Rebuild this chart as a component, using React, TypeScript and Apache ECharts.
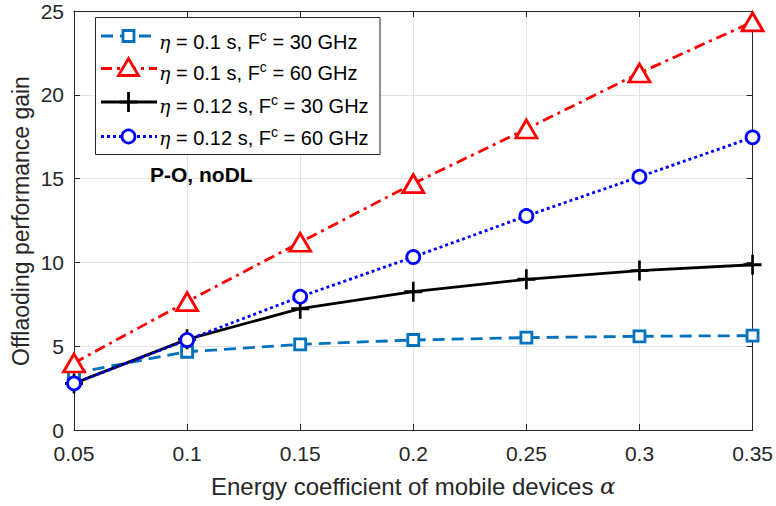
import React, { useEffect, useRef } from "react";
import * as echarts from "echarts";

// alpha values on the x axis
const alphaLabels = ["0.05", "0.1", "0.15", "0.2", "0.25", "0.3", "0.35"];

// offloading performance gain per configuration
const eta01_F30 = [3.4, 4.67, 5.11, 5.37, 5.51, 5.59, 5.63];
const eta01_F60 = [4.0, 7.66, 11.2, 14.7, 17.96, 21.3, 24.35];
const eta012_F30 = [2.78, 5.41, 7.24, 8.25, 8.99, 9.51, 9.86];
const eta012_F60 = [2.78, 5.37, 7.95, 10.32, 12.77, 15.11, 17.46];

const yTicks = [0, 5, 10, 15, 20, 25];

const FONT = "Liberation Sans, Arial, Helvetica, sans-serif";
const MATH = "DejaVu Serif, serif";
const TXT = "#262626";
const LW = 2.8;

const PLUS_PATH = "path://M5,0 L5,10 M0,5 L10,5";

type Entry = {
  eta: string;
  f: string;
  color: string;
  dash: number[] | "solid";
  marker: "square" | "triangle" | "plus" | "circle";
};

const legendEntries: Entry[] = [
  { eta: "0.1", f: "30", color: "#0072BD", dash: [12, 7], marker: "square" },
  { eta: "0.1", f: "60", color: "#FF0000", dash: [11, 5, 3, 5], marker: "triangle" },
  { eta: "0.12", f: "30", color: "#000000", dash: "solid", marker: "plus" },
  { eta: "0.12", f: "60", color: "#0000FF", dash: [3, 3], marker: "circle" },
];

function markerGraphic(e: Entry, cx: number, cy: number): any {
  const stroke = { stroke: e.color, lineWidth: LW, fill: "#fff" };
  if (e.marker === "square") {
    return { type: "rect", shape: { x: cx - 5.5, y: cy - 5.5, width: 11, height: 11 }, style: stroke, z: 102 };
  }
  if (e.marker === "triangle") {
    return {
      type: "polygon",
      shape: { points: [[cx, cy - 10], [cx - 10, cy + 7], [cx + 10, cy + 7]] },
      style: stroke,
      z: 102,
    };
  }
  if (e.marker === "circle") {
    return { type: "circle", shape: { cx, cy, r: 6.5 }, style: stroke, z: 102 };
  }
  return {
    type: "group",
    z: 102,
    children: [
      { type: "line", shape: { x1: cx, y1: cy - 10, x2: cx, y2: cy + 10 }, style: { stroke: e.color, lineWidth: LW }, z: 102 },
      { type: "line", shape: { x1: cx - 9, y1: cy, x2: cx + 9, y2: cy }, style: { stroke: e.color, lineWidth: LW }, z: 102 },
    ],
  };
}

function buildOverlay(): any[] {
  const els: any[] = [
    {
      type: "rect",
      shape: { x: 95.5, y: 17.5, width: 284.5, height: 137 },
      style: { fill: "#ffffff", stroke: TXT, lineWidth: 1 },
      z: 100,
    },
  ];
  const lineY = [36, 68.5, 102, 136.5];
  const textY = [42, 72.5, 105.5, 137.5];
  legendEntries.forEach((e, i) => {
    const y = lineY[i];
    els.push({
      type: "line",
      shape: { x1: 101, y1: y, x2: 157, y2: y },
      style: { stroke: e.color, lineWidth: LW, lineDash: e.dash === "solid" ? null : e.dash },
      z: 101,
    });
    els.push(markerGraphic(e, 128.5, y));
    els.push({
      type: "text",
      x: 159,
      y: textY[i],
      z: 103,
      style: {
        text: `{g|η} = ${e.eta} s, F{s|c} = ${e.f} GHz`,
        font: `20px ${FONT}`,
        fill: "#000",
        verticalAlign: "middle",
        rich: {
          g: { fontFamily: MATH, fontStyle: "italic", fontSize: 19, fill: "#000" },
          s: { fontFamily: FONT, fontSize: 14, fill: "#000", verticalAlign: "bottom", padding: [0, 0, 12, 0] },
        },
      },
    });
  });
  els.push({
    type: "text",
    x: 150,
    y: 174,
    z: 103,
    style: {
      text: "P-O, noDL",
      font: `bold 21px ${FONT}`,
      fill: "#000",
      verticalAlign: "middle",
    },
  });
  // y-axis title, rotated and centred on the plot height
  els.push({
    type: "text",
    x: 21,
    y: 221,
    rotation: Math.PI / 2,
    z: 103,
    style: {
      text: "Offlaoding performance gain",
      font: `23px ${FONT}`,
      fill: TXT,
      align: "center",
      verticalAlign: "middle",
    },
  });
  return els;
}

export default function App() {
  const ref = useRef<HTMLDivElement>(null);

  useEffect(() => {
    if (!ref.current) return;
    const chart = echarts.init(ref.current, null, { renderer: "svg" });

    const axisLine = { show: true, lineStyle: { color: TXT, width: 1 } };
    const tickIn = { show: true, inside: true, length: 6, lineStyle: { color: TXT } };
    const gridLine = { show: true, lineStyle: { color: "#e3e3e3", width: 1 } };

    const markerStyle = (c: string) => ({ color: "#fff", borderColor: c, borderWidth: LW });

    chart.setOption({
      animation: false,
      backgroundColor: "#ffffff",
      textStyle: { fontFamily: FONT },
      grid: { left: 74, top: 11, right: 22, bottom: 76, show: false },
      xAxis: [
        {
          type: "category",
          data: alphaLabels,
          boundaryGap: false,
          axisLine: { ...axisLine, onZero: false },
          axisTick: { ...tickIn, alignWithLabel: true },
          axisLabel: { color: TXT, fontSize: 21, margin: 13, fontFamily: FONT },
          splitLine: gridLine,
          name: "Energy coefficient of mobile devices {a|α}",
          nameLocation: "middle",
          nameGap: 44,
          nameTextStyle: {
            color: TXT,
            fontSize: 24,
            fontFamily: FONT,
            rich: { a: { fontFamily: MATH, fontStyle: "italic", fontSize: 23, color: TXT } },
          },
        },
        {
          type: "category",
          data: alphaLabels,
          boundaryGap: false,
          position: "top",
          axisLine: { ...axisLine, onZero: false },
          axisTick: { ...tickIn, alignWithLabel: true },
          axisLabel: { show: false },
          splitLine: { show: false },
        },
      ],
      yAxis: [
        {
          type: "value",
          min: yTicks[0],
          max: yTicks[yTicks.length - 1],
          interval: 5,
          axisLine,
          axisTick: tickIn,
          axisLabel: { color: TXT, fontSize: 21, margin: 10, fontFamily: FONT },
          splitLine: gridLine,
        },
        {
          type: "value",
          position: "right",
          min: yTicks[0],
          max: yTicks[yTicks.length - 1],
          interval: 5,
          axisLine,
          axisTick: tickIn,
          axisLabel: { show: false },
          splitLine: { show: false },
        },
      ],
      series: [
        {
          type: "line",
          data: eta01_F30,
          symbol: "rect",
          symbolSize: 11,
          color: "#0072BD",
          lineStyle: { color: "#0072BD", width: LW, type: [12, 7] },
          itemStyle: markerStyle("#0072BD"),
          z: 3,
        },
        {
          type: "line",
          data: eta01_F60,
          symbol: "triangle",
          symbolSize: [21, 18],
          color: "#FF0000",
          lineStyle: { color: "#FF0000", width: LW, type: [11, 5, 3, 5] },
          itemStyle: markerStyle("#FF0000"),
          z: 4,
        },
        {
          type: "line",
          data: eta012_F30,
          symbol: PLUS_PATH,
          symbolSize: [18, 20],
          color: "#000000",
          lineStyle: { color: "#000000", width: LW },
          itemStyle: { color: "none", borderColor: "#000000", borderWidth: LW },
          z: 5,
        },
        {
          type: "line",
          data: eta012_F60,
          symbol: "circle",
          symbolSize: 13,
          color: "#0000FF",
          lineStyle: { color: "#0000FF", width: LW, type: [3, 3] },
          itemStyle: markerStyle("#0000FF"),
          z: 6,
        },
      ],
      graphic: buildOverlay(),
    });

    return () => chart.dispose();
  }, []);

  return (
    <div
      ref={ref}
      style={{ position: "absolute", left: 0, top: 0, width: 776, height: 506 }}
    />
  );
}
